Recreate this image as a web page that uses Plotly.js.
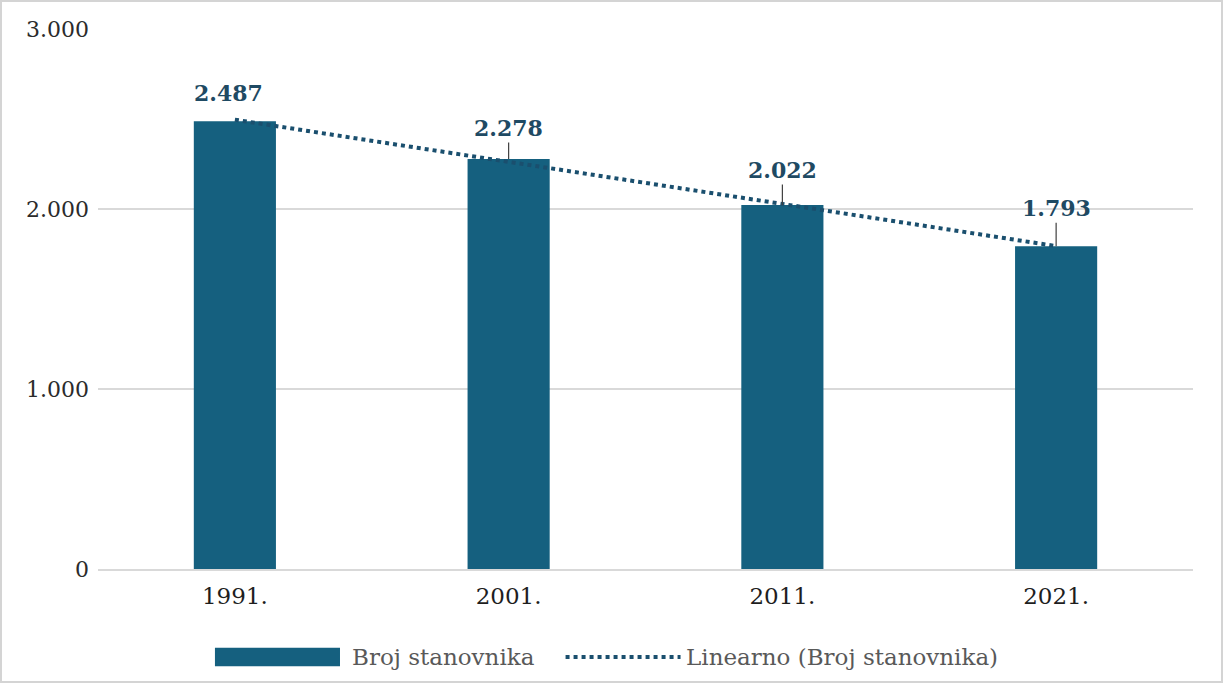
<!DOCTYPE html>
<html>
<head>
<meta charset="utf-8">
<script src="https://cdn.plot.ly/plotly-3.0.1.min.js"></script>
<style>
  html, body { margin: 0; padding: 0; background: #ffffff; }
  #frame { position: absolute; left: 0; top: 0; width: 1219px; height: 679px; border: 2px solid #d4d4d4; background: #ffffff; }
  #chart { width: 1219px; height: 679px; }
</style>
</head>
<body>
<div id="frame"><div id="chart"></div></div>
<script>
// ---- data ----
const years = ['1991.', '2001.', '2011.', '2021.'];
const population = [2487, 2278, 2022, 1793];
const trendValues = [2496, 2262, 2028, 1794];
const yTicks = [0, 1000, 2000, 3000];
const seriesName = 'Broj stanovnika';
const trendName = 'Linearno (Broj stanovnika)';

// ---- styles ----
const barColor = '#15607F';
const trendColor = '#1A4F6E';
const labelColor = '#1F4A63';
const serif = 'DejaVu Serif, Liberation Serif, serif';

function fmt(v) { return String(v).replace(/\B(?=(\d{3})+(?!\d))/g, '.'); }

// category positions (index per year)
const pos = years.map((_, i) => i);

const traces = [
  {
    type: 'bar', x: pos, y: population, name: seriesName, width: 0.30,
    marker: { color: barColor }, showlegend: false, hoverinfo: 'y'
  },
  {
    type: 'scatter', mode: 'lines', x: pos, y: trendValues, name: trendName,
    line: { color: trendColor, width: 4, dash: 'dot' }, showlegend: false
  }
];

// data labels (first without leader line, others with short vertical connector)
const labelOffsets = [null, -31, -35, -38];
const annotations = pos.map((p, i) => {
  const base = {
    x: p, y: population[i], xref: 'x', yref: 'y',
    text: '<b>' + fmt(population[i]) + '</b>',
    font: { family: serif, size: 22, color: labelColor }
  };
  if (labelOffsets[i] === null) {
    return Object.assign(base, { showarrow: false, yanchor: 'bottom', yshift: 13, xshift: -6 });
  }
  return Object.assign(base, {
    showarrow: true, arrowhead: 0, arrowwidth: 1.2, arrowcolor: '#404040',
    ax: 0, ay: labelOffsets[i], standoff: 0
  });
});

// custom legend
annotations.push({
  xref: 'paper', yref: 'paper', x: 0.230, y: -0.163, xanchor: 'left', yanchor: 'middle',
  text: seriesName, showarrow: false, font: { family: serif, size: 23, color: '#595959' }
});
annotations.push({
  xref: 'paper', yref: 'paper', x: 0.535, y: -0.163, xanchor: 'left', yanchor: 'middle',
  text: trendName, showarrow: false, font: { family: serif, size: 23, color: '#595959' }
});

const shapes = [
  { type: 'rect', xref: 'paper', yref: 'paper', x0: 0.1068, x1: 0.221, y0: -0.146, y1: -0.180,
    fillcolor: barColor, line: { width: 0 } },
  { type: 'line', xref: 'paper', yref: 'paper', x0: 0.427, x1: 0.532, y0: -0.163, y1: -0.163,
    line: { color: trendColor, width: 4, dash: 'dot' } }
];

const layout = {
  width: 1219, height: 679,
  margin: { l: 96, r: 28, t: 27, b: 112 },
  paper_bgcolor: '#ffffff', plot_bgcolor: '#ffffff',
  separators: ',.',
  showlegend: false,
  xaxis: {
    range: [-0.5, years.length - 0.5], tickvals: pos, ticktext: years,
    showgrid: false, zeroline: false,
    showline: true, linecolor: '#d9d9d9', linewidth: 1.5,
    ticks: '', ticklabelstandoff: 6,
    tickfont: { family: serif, size: 23, color: '#1e1e1e' }
  },
  yaxis: {
    range: [0, 3000], tickvals: yTicks, ticktext: yTicks.map(fmt),
    showgrid: true, gridcolor: '#d9d9d9', gridwidth: 1.5,
    zeroline: false, showline: false, ticks: '', ticklabelstandoff: 8,
    tickfont: { family: serif, size: 22, color: '#2b2b2b' }
  },
  annotations: annotations,
  shapes: shapes
};

Plotly.newPlot('chart', traces, layout, { displayModeBar: false, staticPlot: true });
</script>
</body>
</html>
